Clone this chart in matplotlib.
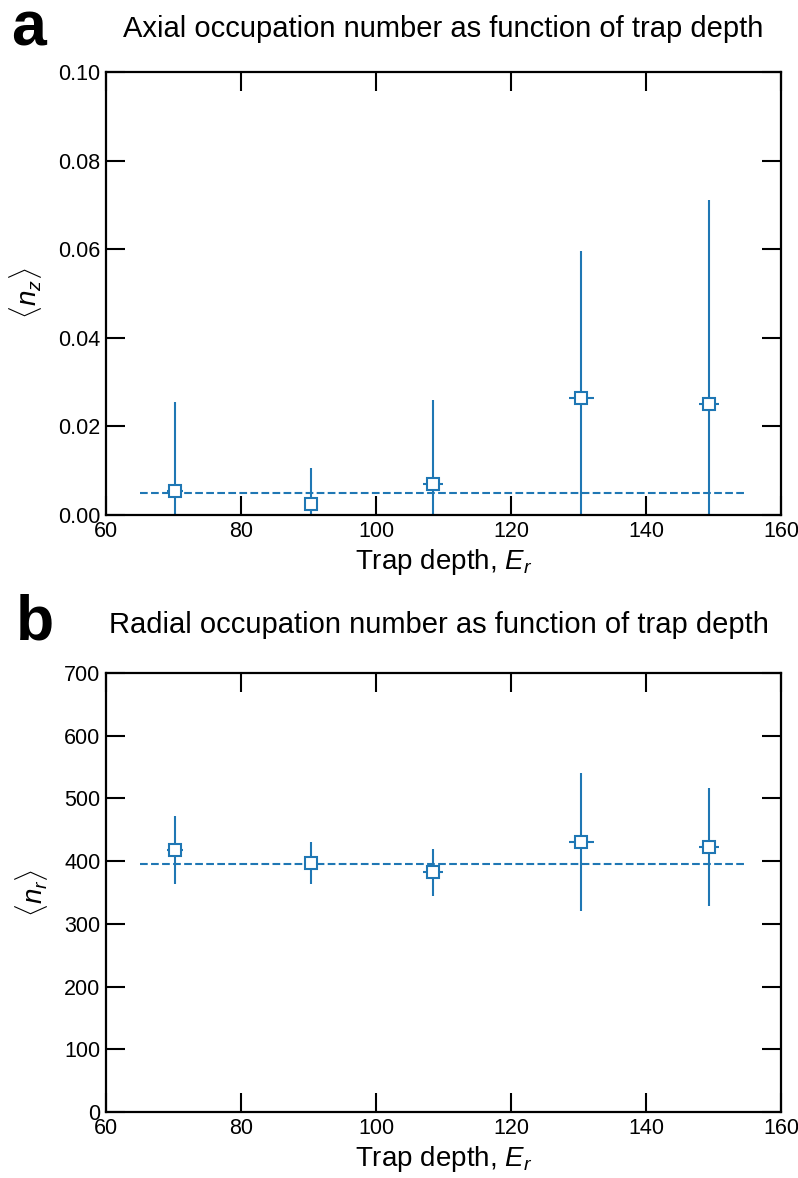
import numpy as np
import matplotlib
matplotlib.use("Agg")
import matplotlib.pyplot as plt

plt.rcParams['font.family'] = ['Liberation Sans', 'DejaVu Sans']
plt.rcParams['mathtext.fontset'] = 'custom'
plt.rcParams['mathtext.rm'] = 'Liberation Sans'
plt.rcParams['mathtext.it'] = 'Liberation Sans:italic'

# trap depth (E_r) and horizontal errors
depth = [70.2, 90.4, 108.4, 130.4, 149.3]
depth_err = [1.2, 0.7, 1.5, 1.9, 1.5]

# axial occupation
nz = [0.0055, 0.0026, 0.0071, 0.0265, 0.0250]
nz_err = [0.0200, 0.0080, 0.0188, 0.0330, 0.0462]
nz_mean = 0.005

# radial occupation
nr = [418, 397, 382, 430, 423]
nr_err = [54, 33, 37, 110, 94]
nr_mean = 395

color = '#1f77b4'

fig = plt.figure(figsize=(7.98, 11.78), dpi=100)
ax1 = fig.add_axes([0.133, 0.5628, 0.846, 0.3761])
ax2 = fig.add_axes([0.133, 0.056, 0.846, 0.3727])


def style(ax):
    ax.tick_params(direction='in', length=14, width=1.5, top=True, right=True,
                   labelsize=15.5, pad=4)
    for s in ax.spines.values():
        s.set_linewidth(1.6)


# panel a
ax1.errorbar(depth, nz, yerr=nz_err, xerr=depth_err, fmt='s', color=color,
             mfc='white', mec=color, ms=9, mew=1.5, elinewidth=1.5, capsize=0)
ax1.plot([65, 155], [nz_mean, nz_mean], '--', color=color, lw=1.5)
ax1.set_xlim(60, 160)
ax1.set_ylim(0, 0.10)
ax1.set_xticks(np.arange(60, 161, 20))
ax1.set_yticks(np.arange(0, 0.101, 0.02))
ax1.set_yticklabels(['%.2f' % v for v in np.arange(0, 0.101, 0.02)])
ax1.set_xlabel('Trap depth, $E_r$', fontsize=20, labelpad=4)
ax1.set_ylabel(r'$\langle n_z \rangle$', fontsize=20, labelpad=10)
style(ax1)

# panel b
ax2.errorbar(depth, nr, yerr=nr_err, xerr=depth_err, fmt='s', color=color,
             mfc='white', mec=color, ms=9, mew=1.5, elinewidth=1.5, capsize=0)
ax2.plot([65, 155], [nr_mean, nr_mean], '--', color=color, lw=1.5)
ax2.set_xlim(60, 160)
ax2.set_ylim(0, 700)
ax2.set_xticks(np.arange(60, 161, 20))
ax2.set_yticks(np.arange(0, 701, 100))
ax2.set_xlabel('Trap depth, $E_r$', fontsize=20, labelpad=4)
ax2.set_ylabel(r'$\langle n_r \rangle$', fontsize=20, labelpad=10)
style(ax2)

# titles and panel letters
fig.text(0.555, 1 - 37 / 1178, 'Axial occupation number as function of trap depth',
         fontsize=21, ha='center', va='baseline')
fig.text(0.550, 1 - 633 / 1178, 'Radial occupation number as function of trap depth',
         fontsize=21, ha='center', va='baseline')
fig.text(0.014, 1 - 45 / 1178, 'a', fontsize=45, fontweight='bold', ha='left', va='baseline')
fig.text(0.020, 1 - 640 / 1178, 'b', fontsize=45, fontweight='bold', ha='left', va='baseline')

fig.savefig('out.png', dpi=100)
